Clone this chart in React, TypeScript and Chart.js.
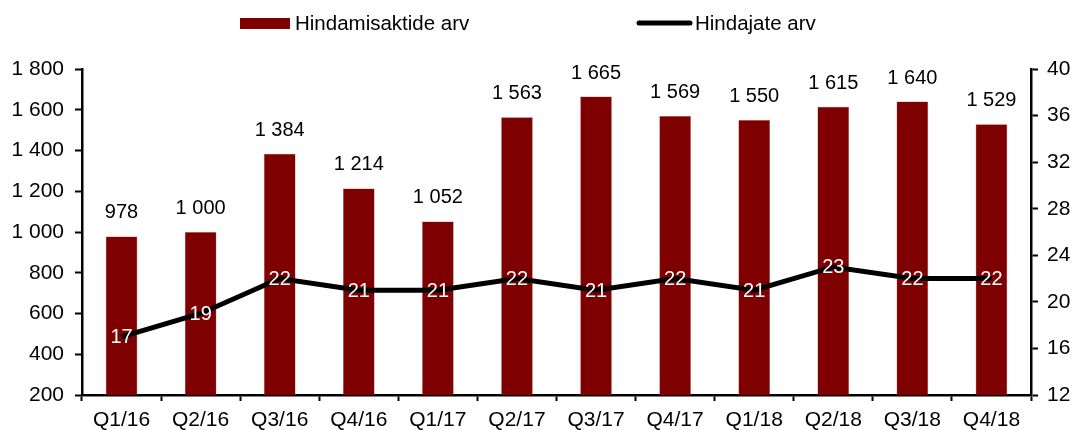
import React, { useEffect, useRef } from "react";
import { Chart, registerables } from "chart.js";

Chart.register(...registerables);

const categories = ["Q1/16", "Q2/16", "Q3/16", "Q4/16", "Q1/17", "Q2/17", "Q3/17", "Q4/17", "Q1/18", "Q2/18", "Q3/18", "Q4/18"];
const actsValues = [978, 1000, 1384, 1214, 1052, 1563, 1665, 1569, 1550, 1615, 1640, 1529];
const appraiserValues = [17, 19, 22, 21, 21, 22, 21, 22, 21, 23, 22, 22];
const barLabel = "Hindamisaktide arv";
const lineLabel = "Hindajate arv";

const FONT = "Arial, 'Liberation Sans', sans-serif";
const BAR_COLOR = "#7f0000";

const fmt = (v: number) => {
  const s = String(Math.round(v));
  return s.replace(/\B(?=(\d{3})+(?!\d))/g, " ");
};

const labelPlugin = {
  id: "valueLabels",
  afterDatasetsDraw(chart: any) {
    const ctx = chart.ctx;
    ctx.save();
    ctx.font = `20px ${FONT}`;
    ctx.textAlign = "center";
    const barMeta = chart.getDatasetMeta(0);
    ctx.fillStyle = "#000";
    ctx.textBaseline = "alphabetic";
    barMeta.data.forEach((el: any, i: number) => {
      ctx.fillText(fmt(actsValues[i]), el.x, el.y - 18);
    });
    const lineMeta = chart.getDatasetMeta(1);
    ctx.fillStyle = "#fff";
    ctx.textBaseline = "middle";
    lineMeta.data.forEach((el: any, i: number) => {
      ctx.fillText(String(appraiserValues[i]), el.x, el.y + 1);
    });
    ctx.restore();
  },
  afterDraw(chart: any) {
    const ctx = chart.ctx;
    ctx.save();
    ctx.fillStyle = BAR_COLOR;
    ctx.fillRect(240, 18, 50, 11);
    ctx.font = `20.5px ${FONT}`;
    ctx.textBaseline = "middle";
    ctx.textAlign = "left";
    ctx.fillStyle = "#000";
    ctx.fillText(barLabel, 295, 24);
    ctx.strokeStyle = "#000";
    ctx.lineWidth = 5;
    ctx.lineCap = "round";
    ctx.beginPath();
    ctx.moveTo(639, 23);
    ctx.lineTo(690, 23);
    ctx.stroke();
    ctx.fillText(lineLabel, 695, 24);
    ctx.restore();
  },
};

export default function App() {
  const ref = useRef<HTMLCanvasElement>(null);
  useEffect(() => {
    document.body.style.margin = "0";
    const tickFont = { family: FONT, size: 21 };
    const chart = new Chart(ref.current!, {
      data: {
        labels: categories,
        datasets: [
          {
            type: "bar",
            label: barLabel,
            data: actsValues,
            backgroundColor: BAR_COLOR,
            borderColor: "#b06060",
            borderWidth: 0.5,
            barPercentage: 0.4,
            categoryPercentage: 1,
            yAxisID: "y",
            order: 2,
          },
          {
            type: "line",
            label: lineLabel,
            data: appraiserValues,
            borderColor: "#000",
            borderWidth: 5,
            pointRadius: 0,
            tension: 0,
            yAxisID: "y1",
            order: 1,
          },
        ],
      } as any,
      options: {
        animation: false,
        responsive: false,
        maintainAspectRatio: false,
        layout: { padding: { top: 69, left: 0, right: 0, bottom: 0 } },
        plugins: { legend: { display: false }, tooltip: { enabled: false } },
        scales: {
          x: {
            offset: true,
            grid: { display: true, offset: true, drawOnChartArea: false, drawTicks: true, tickLength: 6, tickWidth: 2, tickColor: "#000" },
            border: { display: true, color: "#000", width: 2.5 },
            ticks: { color: "#000", font: tickFont, padding: 7, maxRotation: 0 },
            afterFit: (a: any) => { a.height = 35; },
          },
          y: {
            position: "left",
            min: 200,
            max: 1800,
            grid: { display: true, drawOnChartArea: false, drawTicks: true, tickLength: 7, tickWidth: 2, tickColor: "#000" },
            border: { display: true, color: "#000", width: 2.5 },
            ticks: { stepSize: 200, color: "#000", font: tickFont, padding: 11, callback: (v: any) => fmt(Number(v)) },
            afterFit: (a: any) => { a.width = 82; },
          },
          y1: {
            position: "right",
            min: 12,
            max: 40,
            grid: { display: true, drawOnChartArea: false, drawTicks: true, tickLength: 7, tickWidth: 2, tickColor: "#000" },
            border: { display: true, color: "#000", width: 2.5 },
            ticks: { stepSize: 4, color: "#000", font: tickFont, padding: 9 },
            afterFit: (a: any) => { a.width = 43; },
          },
        },
      } as any,
      plugins: [labelPlugin],
    });
    return () => chart.destroy();
  }, []);
  return (
    <div style={{ width: 1074, height: 430 }}>
      <canvas ref={ref} width={1074} height={430} />
    </div>
  );
}
